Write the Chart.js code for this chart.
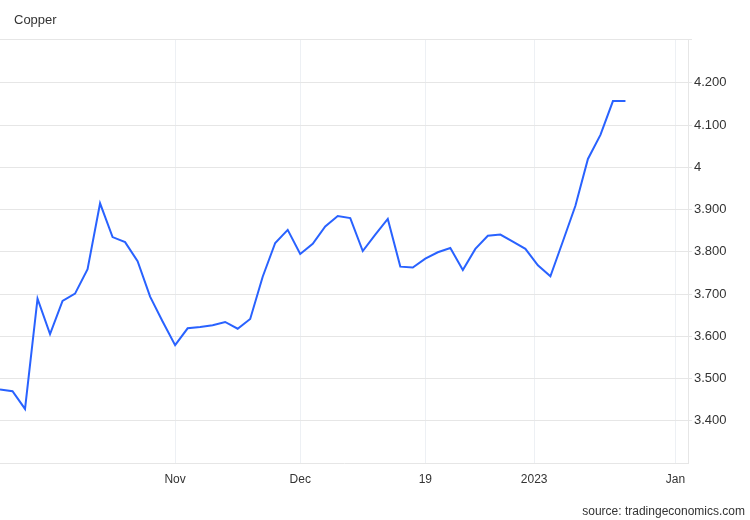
<!DOCTYPE html>
<html>
<head>
<meta charset="utf-8">
<script src="https://cdn.jsdelivr.net/npm/chart.js@4.4.0/dist/chart.umd.min.js"></script>
<style>
  body { margin: 0; background: #fff; }
  #caja { position: relative; width: 750px; height: 520px; font-family: "Liberation Sans", Arial, sans-serif; }
  #titulo { position: absolute; left: 14px; top: 12px; font-size: 13px; color: #333; }
  #fuente { position: absolute; right: 5px; top: 504px; font-size: 12px; color: #333; }
</style>
</head>
<body>
<div id="caja">
  <canvas id="grafica" width="750" height="520"></canvas>
  <div id="titulo">Copper</div>
  <div id="fuente">source: tradingeconomics.com</div>
</div>
<script>
// Precio del cobre (USD/lb), una observación por punto
const precios = [
  3.474, 3.470, 3.428, 3.689, 3.605, 3.684, 3.701, 3.759, 3.915, 3.835,
  3.823, 3.778, 3.694, 3.635, 3.579, 3.619, 3.622, 3.626, 3.634, 3.618,
  3.641, 3.741, 3.821, 3.852, 3.795, 3.819, 3.860, 3.885, 3.880, 3.802,
  3.841, 3.878, 3.765, 3.763, 3.784, 3.799, 3.809, 3.757, 3.807, 3.838,
  3.841, 3.824, 3.807, 3.768, 3.742, 3.825, 3.909, 4.020, 4.077, 4.157,
  4.157
];

// Marcas del eje X (posición en número de observación) y su texto
const posicionesX = [14, 24, 34, 42.7, 54];
const etiquetasX = ["Nov", "Dec", "19", "2023", "Jan"];

// Marcas del eje Y
const valoresY = [3.4, 3.5, 3.6, 3.7, 3.8, 3.9, 4.0, 4.1, 4.2];
const etiquetasY = ["3.400", "3.500", "3.600", "3.700", "3.800", "3.900", "4", "4.100", "4.200"];

const fuente = "'Liberation Sans', Arial, sans-serif";

// Línea superior del marco
const bordeSuperior = {
  id: 'bordeSuperior',
  afterDraw(chart) {
    const ctx = chart.ctx;
    const area = chart.chartArea;
    ctx.save();
    ctx.strokeStyle = '#e6e6e6';
    ctx.lineWidth = 1;
    ctx.beginPath();
    ctx.moveTo(0, area.top + 0.5);
    ctx.lineTo(area.right + 4, area.top + 0.5);
    ctx.stroke();
    ctx.restore();
  }
};

new Chart(document.getElementById("grafica"), {
  type: 'line',
  data: {
    datasets: [{
      label: "Copper",
      data: precios.map((v, i) => ({ x: i, y: v })),
      borderColor: '#2962ff',
      borderWidth: 2,
      pointRadius: 0,
      tension: 0,
      fill: false
    }]
  },
  options: {
    responsive: false,
    animation: false,
    layout: { padding: { top: 39, bottom: 27, left: 0, right: 0 } },
    plugins: {
      legend: { display: false },
      tooltip: { enabled: false }
    },
    scales: {
      x: {
        type: 'linear',
        min: 0,
        max: 55,
        afterBuildTicks(scale) {
          scale.ticks = posicionesX.map(v => ({ value: v }));
        },
        afterFit(scale) { scale.height = 30; },
        ticks: {
          autoSkip: false,
          maxRotation: 0,
          padding: 9,
          color: '#333',
          font: { family: fuente, size: 12 },
          callback: (v, i) => etiquetasX[i]
        },
        grid: { color: '#edf0f4', drawTicks: false },
        border: { display: true, color: '#e6e6e6' }
      },
      y: {
        position: 'right',
        min: 3.3,
        max: 4.304,
        afterBuildTicks(scale) {
          scale.ticks = valoresY.map(v => ({ value: v }));
        },
        afterFit(scale) { scale.width = 62; },
        ticks: {
          padding: 2,
          color: '#333',
          font: { family: fuente, size: 13 },
          callback: (v, i) => etiquetasY[i]
        },
        grid: { color: '#e6e6e6', tickLength: 4 },
        border: { display: true, color: '#e6e6e6' }
      }
    }
  },
  plugins: [bordeSuperior]
});
</script>
</body>
</html>
